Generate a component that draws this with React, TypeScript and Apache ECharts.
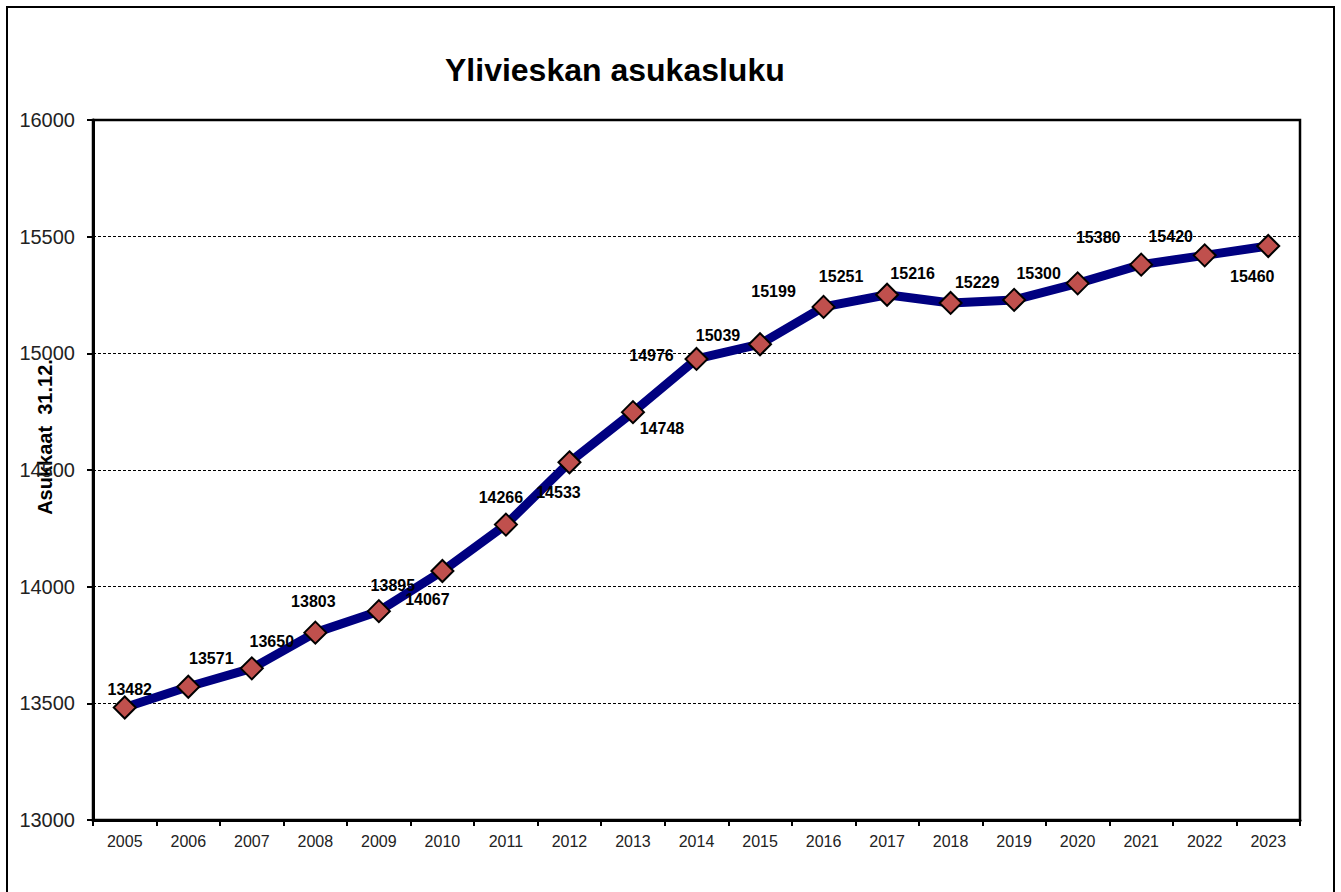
import React, { useEffect, useRef } from "react";
import * as echarts from "echarts";

const years = ["2005","2006","2007","2008","2009","2010","2011","2012","2013","2014","2015","2016","2017","2018","2019","2020","2021","2022","2023"];
const population = [13482,13571,13650,13803,13895,14067,14266,14533,14748,14976,15039,15199,15251,15216,15229,15300,15380,15420,15460];
const labelOffsets: number[][] = [
  [5,-18],[23,-28],[20,-27],[-2,-31],[14,-26],[-15,28],[-5,-27],[-11,30],[29,16],[-45,-3],
  [-42,-9],[-50,-15],[-46,-18],[-38,-29],[-37,-17],[-39,-10],[-43,-27],[-34,-19],[-16,30],
];
const titleText = "Ylivieskan asukasluku";
const yAxisName = "Asukkaat  31.12.";
const yMin = 13000;
const yMax = 16000;
const yStep = 500;

const FONT = 'Arial, "Liberation Sans", Helvetica, sans-serif';

export default function App() {
  const ref = useRef<HTMLDivElement>(null);
  useEffect(() => {
    if (!ref.current) return;
    const chart = echarts.init(ref.current, null, { renderer: "svg" });
    chart.setOption({
      animation: false,
      backgroundColor: "#fff",
      textStyle: { fontFamily: FONT },
      grid: { left: 93, top: 120, width: 1207, height: 700, show: true, borderColor: "#000", borderWidth: 2.5, backgroundColor: "transparent" },
      xAxis: {
        type: "category",
        data: years,
        boundaryGap: true,
        axisLine: { show: true, lineStyle: { color: "#000", width: 3 } },
        axisTick: { show: true, length: 6, lineStyle: { color: "#000", width: 2 } },
        axisLabel: { margin: 13, fontSize: 16, color: "#222", fontFamily: FONT },
        splitLine: { show: false },
      },
      yAxis: {
        type: "value",
        min: yMin,
        max: yMax,
        interval: yStep,
        axisLine: { show: true, lineStyle: { color: "#000", width: 3 } },
        axisTick: { show: true, length: 6, lineStyle: { color: "#000", width: 2 } },
        axisLabel: { margin: 18, fontSize: 20, color: "#222", fontFamily: FONT, formatter: (v: number) => String(v) },
        splitLine: { show: true, lineStyle: { color: "#000", width: 1, type: [3, 2] } },
      },
      graphic: [
        { type: "rect", shape: { x: 7, y: 7, width: 1327, height: 905 }, style: { fill: "none", stroke: "#000", lineWidth: 2 }, silent: true, z: -1 },
        { type: "text", x: 445, y: 70, style: { text: titleText, font: `bold 32px ${FONT}`, fill: "#000", align: "left", verticalAlign: "middle" } },
        { type: "text", x: 45, y: 437, rotation: Math.PI / 2, style: { text: yAxisName, font: `bold 20px ${FONT}`, fill: "#000", align: "center", verticalAlign: "middle" } },
      ],
      series: [
        {
          type: "line",
          data: population.map((v, i) => ({
            value: v,
            label: { offset: labelOffsets[i] },
          })),
          lineStyle: { color: "#000080", width: 9 },
          itemStyle: { color: "#C0504D", borderColor: "#000", borderWidth: 2 },
          symbol: "diamond",
          symbolSize: 22,
          label: {
            show: true,
            position: "inside",
            align: "center",
            verticalAlign: "middle",
            fontSize: 16,
            fontWeight: "bold",
            color: "#000",
            fontFamily: FONT,
          },
          z: 5,
        },
      ],
    });
    return () => chart.dispose();
  }, []);
  return <div ref={ref} style={{ position: "fixed", left: 0, top: 0, width: 1341, height: 892 }} />;
}
